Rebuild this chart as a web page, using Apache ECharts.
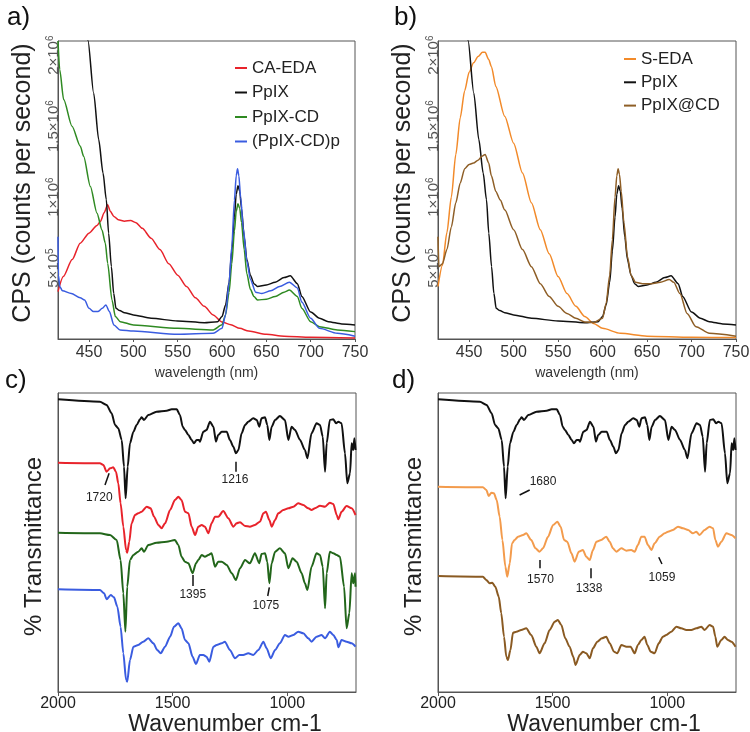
<!DOCTYPE html>
<html>
<head>
<meta charset="utf-8">
<script src="https://cdn.jsdelivr.net/npm/echarts@6/dist/echarts.min.js"></script>
<style>
html,body{margin:0;padding:0;background:#fff;}
#chart{width:750px;height:732px;}
</style>
</head>
<body>
<div id="chart"></div>
<script>
// ---------- Panel a / b : fluorescence (CPS in units of 10^6) ----------
const caEdaNm  = [415,421,431,440,450,459,463,467,471,474,478,483,490,497,503,510,520,530,540,550,560,570,580,590,600,610,620,630,650,670,700,750];
const caEdaCps = [0.334,0.44,0.56,0.675,0.746,0.80,0.83,0.89,0.946,0.90,0.864,0.84,0.83,0.835,0.82,0.78,0.71,0.63,0.53,0.45,0.37,0.29,0.23,0.17,0.12,0.10,0.075,0.056,0.033,0.02,0.012,0.007];

const ppixNm  = [440,448.8,455.2,460.9,465.8,469.5,472.1,475.2,477.8,480.4,484.5,490,500,520,550,580,595,600,604,608,611,614,616,618,620,622,625,628,632,636,640,650,660,670,677,685,690,700,710,720,735,750];
const ppixCps = [2.6,2.104,1.734,1.405,1.169,0.981,0.746,0.511,0.322,0.216,0.2,0.185,0.17,0.146,0.127,0.115,0.122,0.158,0.24,0.40,0.62,0.86,1.02,1.08,1.04,0.92,0.72,0.56,0.45,0.39,0.37,0.38,0.40,0.433,0.445,0.39,0.30,0.19,0.146,0.122,0.106,0.099];

const ppixCdNm  = [415,416.9,421.4,430.8,440.2,443.9,451.5,459,464.6,468.4,471,475.9,479.7,485.3,500,550,590,600,604,608,611,614,616,618,620,622,625,628,632,636,640,650,660,670,676,685,690,700,710,730,750];
const ppixCdCps = [2.1,1.899,1.687,1.499,1.358,1.287,1.075,0.887,0.769,0.675,0.534,0.275,0.158,0.122,0.099,0.075,0.064,0.1,0.17,0.33,0.53,0.76,0.90,0.953,0.92,0.82,0.63,0.46,0.35,0.30,0.275,0.28,0.30,0.33,0.345,0.30,0.216,0.122,0.087,0.064,0.052];

const ppixCdPNm  = [415,415.5,417,420,430,440,445,450,455,460,465,469,473,478,485,500,550,590,600,604,608,611,614,616,617.5,619,621,624,628,632,638,645,655,665,676,685,690,700,710,730,750];
const ppixCdPCps = [0.72,0.45,0.37,0.34,0.32,0.29,0.275,0.216,0.193,0.193,0.216,0.24,0.193,0.099,0.064,0.056,0.033,0.04,0.075,0.17,0.40,0.65,0.98,1.15,1.2,1.15,1.0,0.78,0.55,0.42,0.33,0.32,0.34,0.37,0.40,0.36,0.26,0.146,0.075,0.04,0.02];

const sEdaNm  = [415,420,425,430,435,440,445,450,455,460,465,468,472,475,480,490,500,510,520,530,540,550,560,570,580,590,600,620,650,700,750];
const sEdaCps = [0.37,0.52,0.75,1.0,1.3,1.56,1.75,1.88,1.946,1.99,2.02,2.02,1.97,1.92,1.78,1.57,1.38,1.17,0.96,0.77,0.60,0.44,0.32,0.23,0.158,0.11,0.075,0.04,0.02,0.012,0.01];

const ppixAtCdNm  = [415,416,420,425,430,435,440,445,450,455,460,465,468,472,475,480,485,490,500,510,520,530,540,550,560,570,580,590,600,604,608,611,614,616,617.5,619,621,624,628,632,637,645,655,665,675,680,687,695,705,720,750];
const ppixAtCdCps = [0.72,0.51,0.53,0.63,0.79,0.96,1.10,1.20,1.23,1.24,1.26,1.29,1.30,1.24,1.15,1.04,0.98,0.91,0.77,0.63,0.51,0.39,0.30,0.23,0.18,0.146,0.12,0.115,0.146,0.25,0.45,0.70,1.0,1.15,1.2,1.16,1.04,0.82,0.58,0.45,0.40,0.39,0.39,0.40,0.42,0.40,0.32,0.18,0.087,0.04,0.02];

const nmTicks = [450,500,550,600,650,700,750];
const cpsTicks = [0.5,1,1.5,2];
const cpsTickMantissa = ['5×10','1×10','1.5×10','2×10'];
const cpsTickExponent = ['5','6','6','6'];

// ---------- Panel c / d : FTIR (arbitrary transmittance units, offset stacked) ----------
const irPpixWn = [2000,1817,1788,1766,1751,1737,1722,1712,1705,1696,1686,1671,1657,1642,1635,1625,1606,1570,1526,1504,1482,1468,1456,1446,1431,1417,1407,1395,1385,1381,1366,1352,1337,1322,1311,1301,1286,1264,1250,1235,1224,1213,1199,1184,1170,1148,1133,1122,1112,1097,1087,1078,1068,1053,1032,1010,995,981,966,944,923,912,894,872,857,845,835,828,814,799,787,777,763,748,738,726,719,712,707,702];
const irPpixT  = [292.7,290.3,287,278.7,267,263.7,252,225.3,193.7,225.3,248.7,260.3,267,272.7,274.7,272,277,280.3,281.3,282.7,282.7,277,265.3,262,257,252,248.7,252,252,250.3,260.3,262,270.3,265.3,250.3,257,260.3,260.3,252,245.3,238.7,242,258.7,267,270.3,273.7,272,265.3,273.7,274.7,267,252,265.3,272,276,272,252,265.3,262,252,242,233.7,258.7,268.7,267,255.3,220.3,248.7,272,272.7,268.7,270.3,268.7,238.7,208.7,218.7,248.7,242,253.7,242];

const irCaEdaWn = [2000,1817,1802,1788,1773,1759,1747,1737,1727,1715,1703,1698,1689,1679,1664,1650,1635,1613,1596,1581,1562,1548,1533,1511,1490,1475,1461,1446,1431,1417,1402,1388,1373,1359,1344,1330,1315,1301,1279,1257,1235,1221,1206,1184,1163,1141,1119,1104,1093,1078,1068,1053,1039,1017,995,973,952,930,908,894,879,857,835,814,799,784,777,763,741,719,702];
const irCaEdaT  = [229.3,228.7,227,220.3,223.7,224.7,220.3,208.7,188.7,165.3,142,139.3,150.3,168.7,177,178.7,180.3,185.3,183.7,175.3,167,163.7,168.7,182,192,195.3,192,180.3,178.7,165.3,157,165.3,167,165.3,158.7,168.7,175.3,175.3,181,173.7,165.3,168.7,169.7,166,165.3,167,170.3,178.7,180.3,172,165.3,172,178.7,182,183.7,185.3,188.7,187,183.7,182,183.7,186.3,185.3,189.3,188,177,172.7,180.3,186,183.7,177];

const irPpixCdWn = [2000,1817,1773,1744,1727,1715,1706,1698,1686,1671,1650,1635,1625,1606,1570,1526,1490,1475,1461,1446,1431,1413,1398,1388,1373,1359,1344,1330,1315,1301,1286,1264,1242,1224,1206,1184,1163,1141,1122,1112,1097,1087,1078,1068,1053,1032,1010,995,977,959,937,923,912,894,872,857,845,835,828,814,799,784,770,752,741,729,719,712,704,702];
const irPpixCdT  = [159.3,158.7,157,152,132,98.7,60.3,105.3,132,137,140.3,143.7,140.3,147,149.3,150.3,152,147,135.3,130.3,128.7,118.7,128.7,132,137,135.3,137,138.7,125.3,130.3,130.3,127,118.7,112,123.7,132,128.7,138.7,128.7,138,138.7,130.3,108.7,128.7,140.3,143.7,138.7,123.7,133.7,130.3,118.7,108.7,102,125.3,138.7,137,125.3,83.7,118.7,140.3,138.7,137,135.3,105.3,63.7,78.7,118.7,108.7,118.7,105.3];

const irPpixCdPWn = [2000,1817,1799,1788,1770,1756,1741,1727,1715,1703,1698,1686,1671,1650,1628,1606,1584,1567,1552,1533,1511,1494,1475,1461,1446,1431,1413,1398,1381,1366,1352,1340,1322,1308,1286,1272,1250,1228,1209,1192,1170,1148,1126,1104,1090,1072,1053,1032,1010,995,973,952,930,908,894,872,850,835,814,799,784,777,763,741,719,702];
const irPpixCdPT  = [102.7,102,98.7,92.7,97,94.7,85.3,65.3,38.7,12,10.3,32,45.3,47,50.3,53.7,48.7,42,38.7,45.3,55.3,65.3,68.7,63.7,52,48.7,35.3,28,37,37,35.3,30.3,45.3,47,48.7,50.3,42,33.7,37,37,38.7,37,42,50.3,43.7,33.7,42,48.7,57,55.3,57,60.3,58.7,53.7,50.3,55.3,57,53.7,60.3,57,52,44.7,52,50.3,48.7,45.3];

const irSEdaWn = [2000,1804,1789,1779,1767,1756,1744,1731,1719,1706,1698,1687,1677,1666,1651,1629,1615,1593,1575,1557,1542,1520,1498,1479,1465,1450,1436,1418,1404,1386,1368,1353,1338,1324,1309,1288,1266,1251,1237,1222,1200,1178,1157,1142,1128,1113,1099,1084,1069,1055,1033,1011,997,975,953,931,909,888,873,859,837,815,800,790,779,764,742,720,702];
const irSEdaT  = [205.3,204.7,202,196,199.3,198.7,192,175.3,152,125.3,115.3,128.7,148.7,152,155.3,157,158.7,152,143.7,140.3,143.7,155.3,167,170.3,165.3,152,150.3,138.7,130.3,140.3,142,135.3,132,142,150.3,152,155.3,150.3,143.7,140.3,143.7,141.3,142,140.3,147,155.3,155.3,147,142,148.7,155.3,158.7,160.3,162,165.3,163.7,162,158.7,160.3,157,162,165.3,163.7,152,145.3,150.3,158.7,157,153.7];

const irPpixAtCdWn = [2000,1804,1789,1775,1763,1750,1735,1724,1712,1702,1695,1684,1673,1658,1637,1615,1593,1571,1557,1535,1513,1491,1477,1462,1445,1426,1410,1400,1382,1368,1353,1338,1324,1305,1285,1266,1251,1232,1218,1200,1178,1160,1142,1128,1113,1099,1087,1072,1055,1037,1019,1004,982,960,939,917,895,873,851,837,815,800,790,782,764,750,735,720,702];
const irPpixAtCdT  = [116,115.3,112,108.7,109.3,105.3,95.3,78.7,55.3,35.3,32,42,59.3,60.3,62,63.7,57,45.3,38.7,48.7,62,70.3,72,67,53.7,45.3,35.3,27,37,40.3,38.7,33.7,43.7,50.3,53.7,55.3,48.7,40.3,38.7,47,45.3,45.3,38.7,47,52,55.3,47,40.3,38.7,48.7,55.3,57,60.3,65.3,63.7,62,62,63.7,65.3,62,67,65.3,55.3,45.3,52,55.3,52,50.3,45.3];

const wnTicks = [2000,1500,1000];
const peakLabelsC = ['1720','1216','1395','1075'];
const peakLabelsD = ['1680','1570','1338','1059'];

// ---------- helpers ----------
const zip = (xs, ys) => xs.map((x, i) => [x, ys[i]]);
const FONT = 'Liberation Sans, Arial, Helvetica, sans-serif';
const frame = '#555';

function lineSeries(name, g, xs, ys, color, width, extra) {
  return Object.assign({
    type: 'line', name: name, xAxisIndex: g, yAxisIndex: g,
    data: zip(xs, ys), symbol: 'none', smooth: 0.25, smoothMonotone: 'x',
    lineStyle: { color: color, width: width }, itemStyle: { color: color },
    emphasis: { disabled: true }, z: 3
  }, extra || {});
}

// annotation geometry (data coords) for tick strokes and label anchors
const annC = [
  { label: peakLabelsC[0], line: [[1777, 218.7], [1795, 207]], at: [1820, 194.7] },
  { label: peakLabelsC[1], line: [[1223, 230.3], [1223, 220.3]], at: [1228, 212.7] },
  { label: peakLabelsC[2], line: [[1412, 117], [1412, 106]], at: [1412, 97.7] },
  { label: peakLabelsC[3], line: [[1078, 104.7], [1085, 96]], at: [1093, 86] }
];
const annD = [
  { label: peakLabelsD[0], line: [[1644, 197], [1600, 202]], at: [1542, 210.3] },
  { label: peakLabelsD[1], line: [[1556, 132], [1556, 123.7]], at: [1553, 112] },
  { label: peakLabelsD[2], line: [[1334, 123.7], [1334, 113.7]], at: [1341, 103.7] },
  { label: peakLabelsD[3], line: [[1037, 134.7], [1023, 128]], at: [1023, 114.7] }
];
function annotate(list) {
  return {
    markLine: {
      silent: true, symbol: ['none', 'none'], animation: false,
      lineStyle: { color: '#111', width: 1.5, type: 'solid' },
      label: { show: false },
      data: list.map(a => [{ coord: a.line[0] }, { coord: a.line[1] }])
    },
    markPoint: {
      silent: true, symbol: 'circle', symbolSize: 1, animation: false,
      itemStyle: { color: 'rgba(0,0,0,0)' },
      label: { show: true, position: 'inside', color: '#222', fontSize: 12, fontFamily: FONT, formatter: p => p.name },
      data: list.map(a => ({ name: a.label, coord: a.at }))
    }
  };
}

const grids = [
  { left: 58, top: 41, width: 297, height: 298 },
  { left: 438, top: 41, width: 298, height: 298 },
  { left: 58, top: 393, width: 298, height: 299 },
  { left: 438, top: 393, width: 298, height: 299 }
].map(g => Object.assign(g, { show: true, borderColor: frame, borderWidth: 1, backgroundColor: 'transparent', containLabel: false, outerBoundsMode: 'none' }));

function nmAxis(g) {
  return {
    type: 'value', gridIndex: g, min: 415, max: 750,
    name: 'wavelength (nm)', nameLocation: 'middle', nameGap: 27,
    nameTextStyle: { fontSize: 14, color: '#333', fontFamily: FONT },
    axisLine: { show: true, lineStyle: { color: frame } },
    axisTick: { show: true, length: 3, customValues: nmTicks, lineStyle: { color: frame } },
    axisLabel: { customValues: nmTicks, fontSize: 16, color: '#333', margin: 6, fontFamily: FONT },
    splitLine: { show: false }
  };
}
function cpsAxis(g) {
  return {
    type: 'value', gridIndex: g, min: 0, max: 2.1,
    name: 'CPS (counts per second)', nameLocation: 'middle', nameGap: 22,
    nameTextStyle: { fontSize: 25, color: '#222', fontFamily: FONT, padding: [0, 0, 0, 14] },
    axisLine: { show: true, lineStyle: { color: frame } },
    axisTick: { show: false },
    axisLabel: {
      customValues: cpsTicks, rotate: 90, color: '#555', margin: -4, fontFamily: FONT,
      formatter: v => {
        const i = cpsTicks.indexOf(v);
        return i < 0 ? '' : '{b|' + cpsTickMantissa[i] + '}{s|' + cpsTickExponent[i] + '}';
      },
      rich: {
        b: { fontSize: 15, lineHeight: 17, color: '#555', fontFamily: FONT },
        s: { fontSize: 10, lineHeight: 10, verticalAlign: 'top', color: '#555', fontFamily: FONT }
      }
    },
    splitLine: { show: false }
  };
}
function wnAxis(g, shift) {
  return {
    type: 'value', gridIndex: g, min: 700, max: 2000, inverse: true,
    name: 'Wavenumber cm-1', nameLocation: 'middle', nameGap: 18,
    nameTextStyle: { fontSize: 23, color: '#222', fontFamily: FONT, padding: [0, 0, 0, shift] },
    axisLine: { show: true, lineStyle: { color: frame } },
    axisTick: { show: true, length: 4, customValues: wnTicks, lineStyle: { color: frame } },
    axisLabel: { customValues: wnTicks, fontSize: 16, color: '#222', margin: 4, fontFamily: FONT, formatter: v => String(v) },
    splitLine: { show: false }
  };
}
function tAxis(g) {
  return {
    type: 'value', gridIndex: g, min: 0, max: 299,
    name: '% Transmittance', nameLocation: 'middle', nameGap: 12,
    nameTextStyle: { fontSize: 24, color: '#222', fontFamily: FONT, padding: [0, 8, 0, 0] },
    axisLine: { show: true, lineStyle: { color: frame } },
    axisTick: { show: false }, axisLabel: { show: false }, splitLine: { show: false }
  };
}

const panelTitle = (t, left, top) => ({ text: t, left: left, top: top, padding: 0,
  textStyle: { fontSize: 26, fontWeight: 'normal', color: '#111', fontFamily: FONT } });

const legendBase = {
  orient: 'vertical', icon: 'rect', itemWidth: 12, itemHeight: 2,
  textStyle: { fontSize: 17, color: '#222', fontFamily: FONT, lineHeight: 20 },
  selectedMode: false, padding: 0
};

const option = {
  animation: false,
  backgroundColor: '#fff',
  textStyle: { fontFamily: FONT },
  title: [panelTitle('a)', 7, 5), panelTitle('b)', 394, 5), panelTitle('c)', 5, 368), panelTitle('d)', 392, 368)],
  legend: [
    Object.assign({}, legendBase, { left: 235, top: 58, itemGap: 4.5, data: ['CA-EDA', 'PpIX', 'PpIX-CD', '(PpIX-CD)p'] }),
    Object.assign({}, legendBase, { left: 624, top: 49, itemGap: 3.3, data: ['S-EDA', 'PpIX', 'PpIX@CD'] })
  ],
  grid: grids,
  xAxis: [nmAxis(0), nmAxis(1), wnAxis(2, 36), wnAxis(3, 34)],
  yAxis: [cpsAxis(0), cpsAxis(1), tAxis(2), tAxis(3)],
  series: [
    lineSeries('CA-EDA', 0, caEdaNm, caEdaCps, '#e8232b', 1.5),
    lineSeries('PpIX', 0, ppixNm, ppixCps, '#111111', 1.5),
    lineSeries('PpIX-CD', 0, ppixCdNm, ppixCdCps, '#2f8a22', 1.5),
    lineSeries('(PpIX-CD)p', 0, ppixCdPNm, ppixCdPCps, '#3a5ce0', 1.5),

    lineSeries('S-EDA', 1, sEdaNm, sEdaCps, '#f28a2a', 1.5),
    lineSeries('PpIX', 1, ppixNm, ppixCps, '#111111', 1.5),
    lineSeries('PpIX@CD', 1, ppixAtCdNm, ppixAtCdCps, '#8e5e26', 1.5),

    lineSeries('IR PpIX c', 2, irPpixWn, irPpixT, '#111111', 2, annotate(annC)),
    lineSeries('IR CA-EDA', 2, irCaEdaWn, irCaEdaT, '#e8232b', 2),
    lineSeries('IR PpIX-CD', 2, irPpixCdWn, irPpixCdT, '#22661a', 2),
    lineSeries('IR (PpIX-CD)p', 2, irPpixCdPWn, irPpixCdPT, '#3a5ce0', 2),

    lineSeries('IR PpIX d', 3, irPpixWn, irPpixT, '#111111', 2, annotate(annD)),
    lineSeries('IR S-EDA', 3, irSEdaWn, irSEdaT, '#f39b4c', 2),
    lineSeries('IR PpIX@CD', 3, irPpixAtCdWn, irPpixAtCdT, '#8a5a22', 2)
  ]
};

const chart = echarts.init(document.getElementById('chart'), null, { renderer: 'canvas' });
chart.setOption(option);
</script>
</body>
</html>
